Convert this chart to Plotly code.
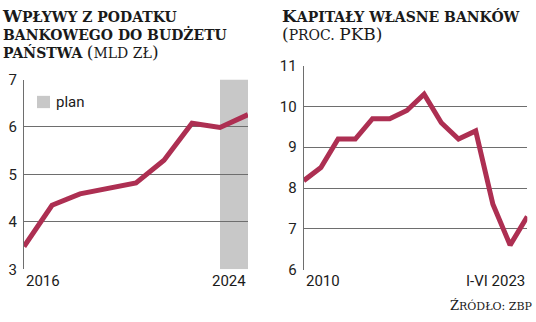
import plotly.graph_objects as go

# Left chart data
years_l = [2016, 2017, 2018, 2019, 2020, 2021, 2022, 2023, 2024]
vals_l = [3.48, 4.35, 4.59, 4.70, 4.82, 5.30, 6.08, 5.99, 6.26]
plan_start, plan_end = 2023, 2024
yticks_l = [3, 4, 5, 6, 7]

# Right chart data
years_r = list(range(2010, 2024))
vals_r = [8.18, 8.5, 9.2, 9.2, 9.7, 9.7, 9.9, 10.3, 9.6, 9.2, 9.4, 7.6, 6.6, 7.3]
yticks_r = [6, 7, 8, 9, 10, 11]

LINE = "#ad2f52"
GRID = "#6e6e6e"
SERIF = "'DejaVu Serif', serif"
SANS = "Roboto"

W, H = 536, 322
def px(x): return x / W
def py(y): return 1 - y / H

fig = go.Figure()

fig.add_trace(go.Scatter(x=years_l, y=vals_l, mode="lines", xaxis="x", yaxis="y",
                         line=dict(color=LINE, width=5), cliponaxis=False, showlegend=False))
fig.add_trace(go.Scatter(x=years_r, y=vals_r, mode="lines", xaxis="x2", yaxis="y2",
                         line=dict(color=LINE, width=5), cliponaxis=False, showlegend=False))

fig.add_shape(type="rect", xref="x", yref="y", x0=plan_start, x1=plan_end, y0=3, y1=7,
              fillcolor="#c8c8c8", line=dict(width=0), layer="below")

ax_common = dict(showgrid=False, zeroline=False, showticklabels=False, ticks="", fixedrange=True)
ay_common = dict(showgrid=True, gridcolor=GRID, gridwidth=1, zeroline=False, ticks="",
                 showline=True, linecolor=GRID, linewidth=1.2,
                 tickfont=dict(family=SANS, size=15, color="#222"), ticklabelstandoff=3)

fig.update_layout(
    width=W, height=H, margin=dict(l=0, r=0, t=0, b=0),
    paper_bgcolor="white", plot_bgcolor="white",
    xaxis=dict(domain=[px(24), px(248)], range=[2016, 2024], anchor="y", **ax_common),
    yaxis=dict(domain=[py(275.7), py(74.7)], range=[3, 7], tickvals=yticks_l, anchor="x", **ay_common),
    xaxis2=dict(domain=[px(303.7), px(527.3)], range=[2010, 2023], anchor="y2", **ax_common),
    yaxis2=dict(domain=[py(276), py(60)], range=[6, 11], tickvals=yticks_r, anchor="x2", **ay_common),
)

def sc(big, small, bs=17, ss=14):
    return f"<span style='font-size:{bs}px'>{big}</span><span style='font-size:{ss}px'>{small}</span>"

ann = []
def add(text, x, y, xanchor="left", size=14, family=SERIF, color="#1a1a1a", xref="paper", yref="paper",
        yanchor="middle", align="left"):
    ann.append(dict(text=text, x=x, y=y, xref=xref, yref=yref, xanchor=xanchor, yanchor=yanchor,
                    align=align, showarrow=False, font=dict(family=family, size=size, color=color)))

# Titles (small caps emulation)
title_l = ("<b>" + sc("W", "PŁYWY Z PODATKU") + "</b><br>"
           "<b>" + sc("", "BANKOWEGO DO BUDŻETU") + "</b><br>"
           "<b>" + sc("", "PAŃSTWA") + "</b> "
           "<span style='font-size:17px'>(</span><span style='font-size:14px'>MLD ZŁ</span>"
           "<span style='font-size:17px'>)</span>")
title_r = ("<b>" + sc("K", "APITAŁY WŁASNE BANKÓW") + "</b><br>"
           "<span style='font-size:17px'>(</span><span style='font-size:14px'>PROC. </span>"
           "<span style='font-size:17px'>PKB)</span>")
add(title_l, px(0), py(-5), yanchor="top")
add(title_r, px(280), py(-5), yanchor="top")

# x labels
add("2016", 2016, py(288), xanchor="left", size=15, family=SANS, xref="x")
add("2024", 2024, py(288), xanchor="right", size=15, family=SANS, xref="x")
add("2010", 2010, py(288), xanchor="left", size=15, family=SANS, xref="x2")
add("I-VI 2023", 2023, py(288), xanchor="right", size=15, family=SANS, xref="x2")

# legend
fig.add_shape(type="rect", xref="paper", yref="paper", x0=px(37), x1=px(50), y0=py(105), y1=py(92),
              fillcolor="#c8c8c8", line=dict(width=0))
add("plan", px(54), py(99), size=15, family=SANS)

# source
add(sc("Ź", "RÓDŁO: ZBP", 13, 11), px(534), py(314), xanchor="right", size=11)

fig.update_layout(annotations=ann)
fig.write_html("out.html")
